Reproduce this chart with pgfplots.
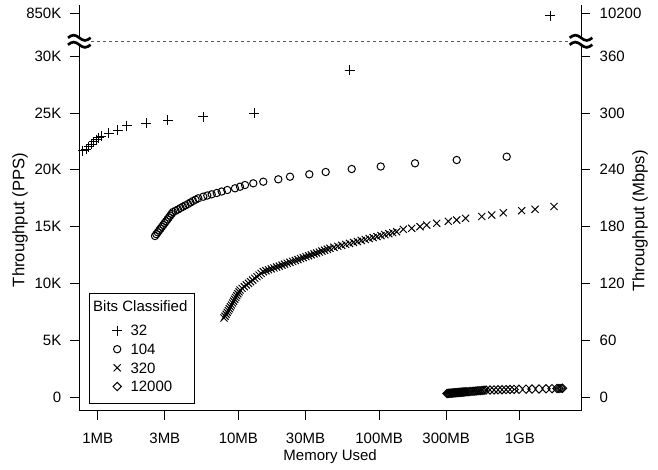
\documentclass[border=0pt]{standalone}
\usepackage{fontspec}
\setmainfont{Liberation Sans}
\usepackage{pgfplots}
\pgfplotsset{compat=1.18}
\newcommand\fs{\fontsize{11.25}{13.5}\selectfont}
\newcommand\fl{\fontsize{12.5}{15}\selectfont}
\pgfplotsset{
  every axis/.append style={
    scale only axis, width=376.275pt, xmode=log, xmin=0.74, xmax=2722,
    clip=false, tick align=outside, major tick length=6.75pt,
    scaled ticks=false,
    every tick/.style={black, line width=0.75pt},
    axis line style={line width=0.75pt},
    tick label style={font=\fs},
    label style={font=\fs},
    xminorticks=false, yminorticks=false,
  },
  legimg/.style={legend image code/.code={\path[draw=none] (-18.3pt,0pt) -- (4pt,0pt); \draw[only marks] plot coordinates {(0pt,0pt)};}},
  sA/.style={only marks, mark=+, mark size=3.75pt, mark options={line width=0.75pt}, legimg},
  sB/.style={only marks, mark=o, mark size=2.75pt, mark options={line width=0.75pt}, legimg},
  sC/.style={only marks, mark=x, mark size=3.75pt, mark options={line width=0.75pt}, legimg},
  sD/.style={only marks, mark=square, mark size=2.2pt, mark options={line width=0.75pt, rotate=45}, legimg},
}
\begin{document}
\begin{tikzpicture}
\useasboundingbox (0,0) rectangle (493.5pt,351.75pt);

% lower part of the broken axis: 0 to 30K packets per second
\begin{axis}[
  at={(59.475pt,43.725pt)}, anchor=south west, height=277.275pt,
  ymin=-1206, ymax=31339,
  axis x line*=bottom, axis y line*=left,
  xtick={1,3,10,30,100,300,1000},
  xticklabels={1MB,3MB,10MB,30MB,100MB,300MB,1GB},
  xticklabel style={yshift=-6.75pt},
  ytick={0,5000,10000,15000,20000,25000,30000},
  yticklabels={0,5K,10K,15K,20K,25K,30K},
  yticklabel style={xshift=-3.2pt},
  xlabel={Memory Used},
  xlabel style={at={(axis description cs:0.5,-0.1252)}, anchor=center},
  ylabel={Throughput (PPS)},
  ylabel style={at={(axis description cs:-0.1182,0.5158)}, anchor=center, font=\fl},
  legend cell align=left,
  legend style={at={(axis description cs:0.0199,0.3192)}, anchor=north west,
    draw=black, line width=0.75pt, inner xsep=2.25pt, inner ysep=6pt,
    column sep=6pt, row sep=0pt,
    nodes={inner sep=0pt, text height=10.9pt, text depth=3.1pt, font=\fs}},
]
\addlegendimage{empty legend}
\addlegendentry[text height=7.94pt, text depth=7.06pt]{\hspace*{-28pt}Bits Classified\hspace*{3pt}}

\addplot[sA] coordinates {
 (0.786,21682) (0.830,21831) (0.867,22034) (0.901,22245) (0.941,22448)
 (0.977,22650) (1.016,22826) (1.061,22976) (1.203,23213) (1.394,23504)
 (1.615,23883) (2.215,24094) (3.159,24384) (5.630,24675) (12.91,24974)
 (62.1,28786)
};
\addlegendentry{32}

\addplot[sB] coordinates {
 (2.555,14173) (2.613,14336) (2.673,14498) (2.734,14661) (2.797,14823)
 (2.861,14986) (2.927,15148) (2.994,15311) (3.062,15473) (3.132,15636)
 (3.204,15798) (3.277,15961) (3.353,16123) (3.429,16286)
 (3.573,16391) (3.722,16506) (3.878,16638) (4.040,16752) (4.207,16875)
 (4.383,16990) (4.566,17122) (4.757,17254) (4.956,17368) (5.188,17492)
 (5.630,17632) (6.012,17738) (6.460,17844) (7.013,17958) (7.608,18090)
 (8.340,18222) (9.459,18372) (10.26,18513) (11.14,18662) (12.76,18812)
 (15.03,18953) (19.21,19164) (23.27,19393) (31.91,19604) (41.73,19807)
 (63.87,20071) (102.7,20291) (180.0,20573) (356.0,20863) (807.0,21154)
};
\addlegendentry{104}

\addplot[sC] coordinates {
 (7.901,6954) (8.040,7118) (8.182,7283) (8.326,7447) (8.473,7611)
 (8.622,7776) (8.774,7940) (8.928,8104) (9.085,8268) (9.245,8433)
 (9.408,8597) (9.574,8761) (9.742,8926) (9.914,9090) (10.09,9254)
 (10.26,9419)
 (10.62,9566) (11.00,9712) (11.38,9859) (11.79,10005) (12.20,10152)
 (12.63,10298) (13.08,10445) (13.54,10591) (14.02,10738) (14.51,10884)
 (15.02,11031)
 (15.69,11113) (16.39,11196) (17.12,11278) (17.89,11361) (18.69,11443)
 (19.52,11525) (20.39,11608) (21.30,11690) (22.25,11773) (23.24,11855)
 (24.28,11937) (25.36,12020) (26.49,12102) (27.68,12185) (28.91,12267)
 (30.20,12349) (31.55,12432) (32.96,12514) (34.43,12597) (35.96,12679)
 (37.57,12761) (39.24,12844) (40.99,12926) (42.82,13009) (44.73,13091)
 (47.70,13177) (50.86,13263) (54.23,13349) (57.83,13435) (61.66,13521)
 (65.75,13607) (70.11,13692) (74.76,13778) (79.72,13864) (85.00,13950)
 (90.64,14036) (96.65,14122) (103.1,14208) (109.9,14294) (117.2,14380)
 (124.9,14465) (133.2,14551)
 (148.6,14763) (170.5,14851) (195.3,14992) (217.9,15141) (256.7,15291)
 (310.3,15467) (356.0,15581) (411.3,15731) (536.1,15889) (631.4,16021)
 (763.3,16215) (1031.6,16400) (1282.4,16523) (1750.4,16770)
};
\addlegendentry{320}

\addplot[sD] coordinates {
 (303.8,308) (308.8,316) (313.9,324) (319.1,332) (324.4,340)
 (329.7,348) (335.2,356) (340.7,364) (346.3,371) (352.0,379)
 (357.8,387) (363.7,395) (369.7,403) (375.8,411) (382.0,419)
 (388.3,427) (394.7,435) (401.2,442) (407.8,450) (414.6,458)
 (428.4,466) (442.7,482) (457.4,497) (472.6,513) (488.3,529)
 (504.6,545) (521.4,561) (538.7,576) (556.7,592) (575.2,608)
 (614.1,616) (655.6,625) (700.0,634) (747.2,643) (797.8,651)
 (852.0,660) (909.5,669) (987.0,678)
 (1107,690) (1221,700) (1369,710) (1536,722) (1694,735)
 (1838,745) (1899,752) (1962,760) (2011,766)
};
\addlegendentry{12000}

% break line between the two parts of the axis
\draw[gray!70!black, line width=0.7pt, dash pattern=on 2.25pt off 2.25pt]
  (rel axis cs:0,1) -- (rel axis cs:1,1);
\end{axis}

% right-hand scale of the lower part, in Mbps (1500-byte packets)
\begin{axis}[
  at={(59.475pt,43.725pt)}, anchor=south west, height=277.275pt,
  ymin=-1206, ymax=31339,
  axis x line=none, axis y line*=right,
  ytick={0,5000,10000,15000,20000,25000,30000},
  yticklabels={0,60,120,180,240,300,360},
  yticklabel style={xshift=3.75pt},
  ylabel={Throughput (Mbps)},
  ylabel style={at={(axis description cs:1.1176,0.5131)}, anchor=center, font=\fl},
]
\end{axis}

% upper part of the broken axis, around line rate
\begin{axis}[
  at={(59.475pt,321pt)}, anchor=south west, height=27pt,
  ymin=800000, ymax=865000,
  axis x line=none, axis y line*=left,
  ytick={850000}, yticklabels={850K},
  yticklabel style={xshift=-3.2pt},
]
\addplot[sA] coordinates {(1639,845700)};
\end{axis}

\begin{axis}[
  at={(59.475pt,321pt)}, anchor=south west, height=27pt,
  ymin=800000, ymax=865000,
  axis x line=none, axis y line*=right,
  ytick={850000}, yticklabels={10200},
  yticklabel style={xshift=3.75pt},
]
\end{axis}

% axis break symbols
\foreach \bx in {59.475pt,435.75pt}{
  \begin{scope}[shift={(\bx,321pt)}]
    \fill[white] (-8.5pt,-2pt) rectangle (8.5pt,2pt);
    \draw[line width=2pt] (-8.5pt,2.4pt) sin (-4.25pt,4.4pt) cos (0pt,2.4pt) sin (4.25pt,0.4pt) cos (8.5pt,2.4pt);
    \draw[line width=2pt] (-8.5pt,-2.8pt) sin (-4.25pt,-0.8pt) cos (0pt,-2.8pt) sin (4.25pt,-4.8pt) cos (8.5pt,-2.8pt);
  \end{scope}
}
\end{tikzpicture}
\end{document}
